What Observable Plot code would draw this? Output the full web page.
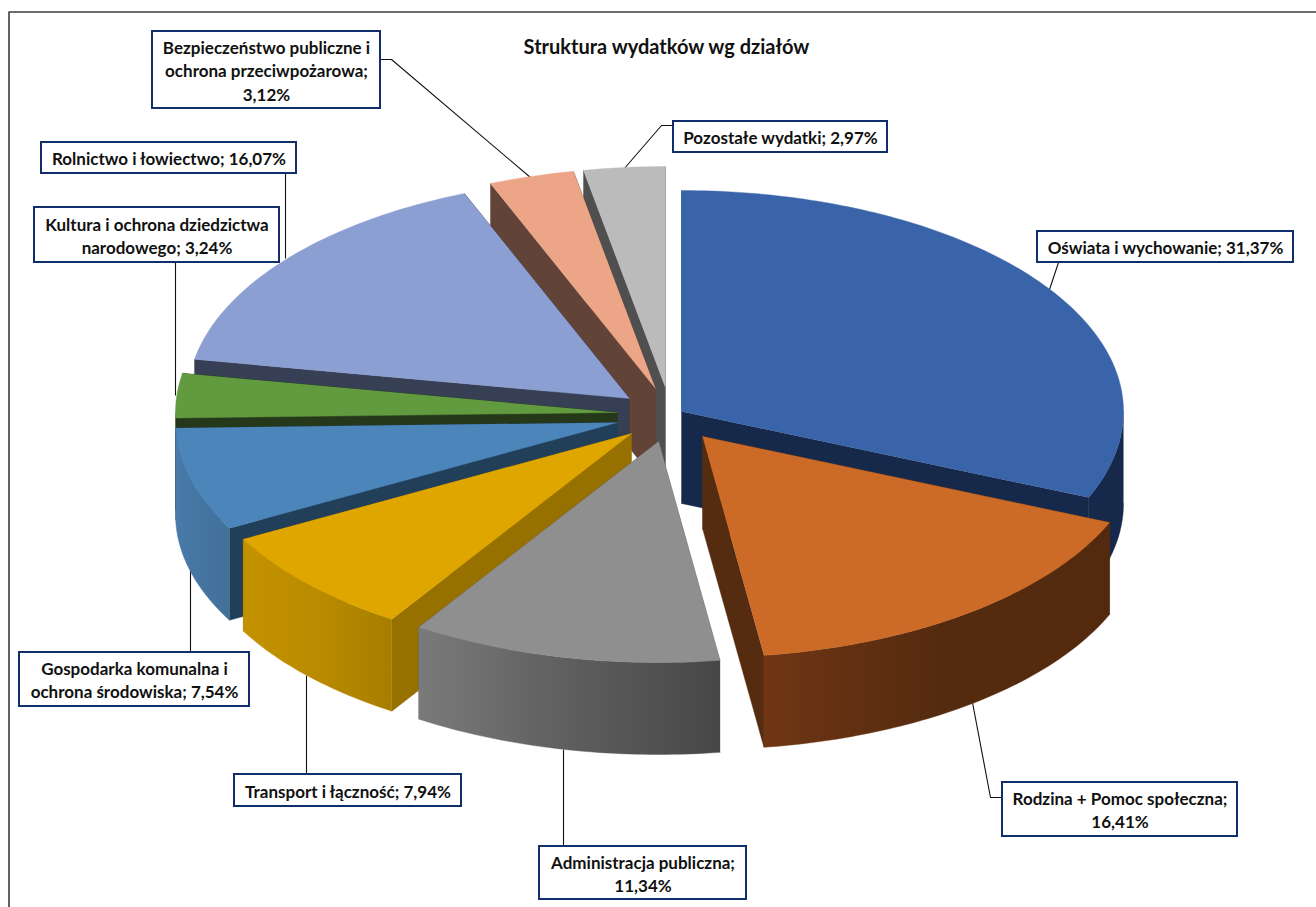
<!DOCTYPE html>
<html><head><meta charset="utf-8">
<style>html,body{margin:0;padding:0;background:#fff;overflow:hidden}svg{display:block}</style>
<script src="https://cdn.jsdelivr.net/npm/d3@7"></script>
<script src="https://cdn.jsdelivr.net/npm/@observablehq/plot@0.6"></script>
</head><body><div id="chart"></div>
<script>
const chartTitle = "Struktura wydatków wg działów";
const categories = ["Oświata i wychowanie","Rodzina + Pomoc społeczna","Administracja publiczna","Transport i łączność","Gospodarka komunalna i ochrona środowiska","Kultura i ochrona dziedzictwa narodowego","Rolnictwo i łowiectwo","Bezpieczeństwo publiczne i ochrona przeciwpożarowa","Pozostałe wydatki"];
const shares = [31.37,16.41,11.34,7.94,7.54,3.24,16.07,3.12,2.97];
const labelTexts = [
 "Oświata i wychowanie; 31,37%",
 "Rodzina + Pomoc społeczna;\n16,41%",
 "Administracja publiczna;\n11,34%",
 "Transport i łączność; 7,94%",
 "Gospodarka komunalna i\nochrona środowiska; 7,54%",
 "Kultura i ochrona dziedzictwa\nnarodowego; 3,24%",
 "Rolnictwo i łowiectwo; 16,07%",
 "Bezpieczeństwo publiczne i\nochrona przeciwpożarowa;\n3,12%",
 "Pozostałe wydatki; 2,97%"];

// layout of the exploded 3-D pie
const apexX = [681,702,658,631,617,617,629,655,665];
const apexY = [411,436,441,433,422,412,398,388,387];
const radiusX = 442, radiusY = 221, depth = 92;
const topColors  = ["#3A64AA","#CC6B27","#8F8F8F","#DFA600","#4B85BA","#629A3F","#8C9FD3","#EDA588","#BBBBBB"];
const sideColors = ["#16294A","#562C10","#5A5A5A","#977100","#223F5A","#25391A","#373F55","#624337","#4F4F4F"];
const rimFills   = ["#16294A","url(#gOrange)","url(#gGray)","url(#gYellow)","url(#gSteel)","#3C6029","#373F55","#624337","#4F4F4F"];
const drawOrder  = [8,7,6,5,4,3,2,0,1];
const gradients = [
 ["gOrange","#703614","#552B10","#542A0F"],
 ["gGray","#7A7A7A","#5E5E5E","#474747"],
 ["gYellow","#C49200","#BA8B00","#A87D00"],
 ["gSteel","#4A7BA9","#44749F","#41709B"]];

const boxX1 = [1037,1002,539,234,19,34,41,152,673];
const boxX2 = [1293,1237,746,461,249,279,296,380,887];
const boxY1 = [231,782,846,774,652,207,142,31,121];
const boxY2 = [262,836,899,806,706,262,173,108,152];
const leaders = [
 [[1058,262],[1049,289]],
 [[1002,797],[990,797],[972,702]],
 [[563,846],[563,749]],
 [[306,774],[306,675]],
 [[190,652],[190,570]],
 [[175,262],[175,395]],
 [[285,173],[285,258]],
 [[380,59],[391,59],[530,177]],
 [[673,125],[661,125],[623,169]]];

// faces
const rad = d => d * Math.PI / 180;
const total = d3.sum(shares);
const cum = d3.cumsum(shares);
const startA = shares.map((_, i) => (i ? cum[i-1] : 0) / total * 360);
const endA = cum.map(c => c / total * 360);
const faces = [];
function addFace(id, color, pts){ pts.forEach(p => faces.push({face:id, color, px:p[0], py:p[1]})); }
function rimPt(i, a, dz=0){ return [apexX[i] + radiusX*Math.sin(rad(a)), apexY[i] - radiusY*Math.cos(rad(a)) + dz]; }
function arc(i, a0, a1, dz=0){
  const n = Math.max(4, Math.ceil(a1-a0)), out = [];
  for (let k=0;k<=n;k++) out.push(rimPt(i, a0+(a1-a0)*k/n, dz));
  return out;
}
for (const i of drawOrder){
  const ax=apexX[i], ay=apexY[i];
  for (const [nm,a] of [["a",startA[i]],["b",endA[i]]]){
    addFace(`wall${nm}${i}`, sideColors[i], [[ax,ay],rimPt(i,a),rimPt(i,a,depth),[ax,ay+depth]]);
  }
  // only the front half of the rim (90°–270°) faces the viewer
  const r0 = Math.max(startA[i],90), r1 = Math.min(endA[i],270);
  if (r1 > r0) addFace(`rim${i}`, rimFills[i], [...arc(i,r0,r1), ...arc(i,r0,r1,depth).reverse()]);
  addFace(`top${i}`, topColors[i], [[ax,ay], ...arc(i,startA[i],endA[i])]);
}
const leaderRows = leaders.flatMap((l,i)=>l.map(p=>({k:i,px:p[0],py:p[1]})));
const boxes = categories.map((c,i)=>({c,x1:boxX1[i],x2:boxX2[i],y1:boxY1[i],y2:boxY2[i],t:labelTexts[i]}));
const frameRows = [{px:8.5,py:907},{px:8.5,py:11.5},{px:1316,py:11.5}];

function defsMark(){
  const defs = d3.create("svg:defs");
  for (const [id,c0,c1,c2] of gradients){
    const g = defs.append("linearGradient").attr("id",id);
    g.append("stop").attr("offset","0%").attr("stop-color",c0);
    g.append("stop").attr("offset","50%").attr("stop-color",c1);
    g.append("stop").attr("offset","100%").attr("stop-color",c2);
  }
  return defs.node();
}
const fam = "Lato, 'Open Sans', sans-serif";
const chart = Plot.plot({
  width:1316, height:907, margin:0,
  x:{domain:[0,1316],range:[0,1316],axis:null},
  y:{domain:[0,907],range:[0,907],axis:null},
  color:{type:"identity"},
  style:{background:"#fff",fontFamily:fam},
  marks:[
    defsMark,
    Plot.line(frameRows,{x:"px",y:"py",stroke:"#3c3c3c",strokeWidth:1.6}),
    Plot.line(leaderRows,{x:"px",y:"py",z:"k",stroke:"#111",strokeWidth:1.1,strokeLinecap:"butt"}),
    Plot.line(faces,{x:"px",y:"py",z:"face",fill:"color",stroke:"color",strokeWidth:0.4}),
    Plot.rect(boxes,{x1:"x1",x2:"x2",y1:"y1",y2:"y2",fill:"#fff",stroke:"#0F2E6B",strokeWidth:2}),
    Plot.text(boxes,{x:d=>(d.x1+d.x2)/2,y:d=>(d.y1+d.y2)/2,text:"t",fontFamily:fam,fontWeight:700,fontSize:17,lineHeight:1.36,fill:"#111",lineAnchor:"middle"}),
    Plot.text([chartTitle],{x:[666],y:[47],text:d=>d,fontFamily:fam,fontWeight:700,fontSize:20,fill:"#111",lineAnchor:"middle"})
  ]
});
document.getElementById("chart").append(chart);
</script></body></html>
